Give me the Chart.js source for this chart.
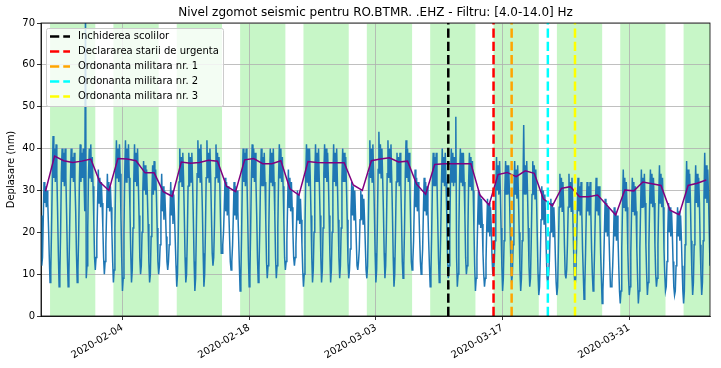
<!DOCTYPE html>
<html>
<head>
<meta charset="utf-8">
<script src="https://cdn.jsdelivr.net/npm/chart.js@4.4.0/dist/chart.umd.min.js"></script>
<style>
  body { margin: 0; background: #fff; }
  #wrap { width: 721px; height: 368px; }
</style>
</head>
<body>
<div id="wrap"><canvas id="grafic" width="721" height="368"></canvas></div>
<script>
// Ziua 0 a seriei
const dataStart = "2020-01-26";

// Deplasare (nm): un rand pe zi, esantioane la 00,02,...,22 h
const deplasare = [
  [24, 12, 14, 23, 32, 27, 31, 26, 30, 27, 21, 14], // 01-26 dum
  [8, 11, 21, 33, 43, 33, 40, 32, 41, 34, 25, 15],
  [7, 10, 20, 34, 40, 32, 39, 31, 40, 33, 24, 14],
  [7, 10, 21, 32, 40, 33, 38, 32, 39, 32, 25, 15],
  [8, 11, 20, 33, 41, 32, 39, 33, 40, 33, 25, 75],
  [9, 12, 21, 34, 40, 33, 41, 32, 38, 31, 23, 14],
  [11, 14, 18, 27, 35, 27, 33, 26, 32, 27, 21, 14],
  [10, 13, 17, 25, 34, 26, 32, 25, 31, 26, 20, 13], // 02-02 dum
  [8, 11, 21, 33, 42, 33, 40, 32, 41, 34, 24, 14],
  [6, 9, 20, 34, 42, 32, 40, 33, 41, 33, 25, 15],
  [8, 11, 21, 32, 41, 32, 39, 31, 40, 32, 24, 14],
  [10, 12, 20, 30, 37, 30, 36, 29, 35, 29, 22, 13],
  [8, 10, 19, 29, 36, 29, 37, 30, 35, 29, 21, 13],
  [10, 12, 17, 26, 34, 25, 31, 23, 30, 25, 19, 13],
  [11, 13, 17, 24, 32, 24, 30, 22, 29, 24, 18, 12], // 02-09 dum
  [7, 10, 20, 32, 40, 32, 38, 31, 39, 33, 24, 14],
  [8, 10, 19, 31, 39, 31, 38, 32, 39, 32, 23, 13],
  [6, 9, 21, 34, 42, 33, 40, 32, 41, 33, 25, 15],
  [7, 10, 20, 33, 42, 33, 39, 32, 40, 33, 24, 15],
  [12, 14, 22, 33, 41, 33, 39, 32, 38, 32, 23, 15],
  [15, 17, 20, 26, 33, 25, 32, 24, 31, 25, 19, 13],
  [11, 13, 17, 24, 32, 24, 31, 23, 30, 25, 19, 12], // 02-16 dum
  [6, 9, 20, 33, 40, 32, 39, 31, 40, 33, 24, 14],
  [7, 10, 21, 34, 41, 33, 40, 32, 39, 32, 24, 14],
  [8, 11, 20, 32, 40, 31, 38, 31, 39, 32, 23, 13],
  [9, 12, 20, 32, 40, 32, 39, 31, 40, 32, 24, 14],
  [9, 12, 21, 33, 41, 33, 40, 32, 38, 31, 23, 14],
  [11, 13, 18, 27, 35, 26, 33, 25, 32, 26, 20, 14],
  [12, 14, 17, 23, 30, 23, 29, 22, 28, 23, 17, 11], // 02-23 dum
  [7, 10, 21, 33, 41, 32, 40, 31, 40, 33, 24, 14],
  [8, 11, 20, 33, 41, 32, 39, 32, 40, 32, 24, 14],
  [8, 11, 21, 34, 41, 33, 40, 32, 39, 33, 24, 15],
  [8, 11, 20, 32, 41, 32, 39, 31, 40, 32, 23, 14],
  [9, 12, 21, 33, 40, 32, 39, 32, 38, 31, 23, 13],
  [9, 11, 16, 25, 32, 24, 31, 23, 30, 24, 18, 12],
  [11, 13, 16, 23, 30, 23, 29, 22, 28, 23, 17, 11], // 03-01 dum
  [9, 12, 22, 34, 42, 33, 40, 32, 41, 34, 25, 15],
  [8, 11, 22, 35, 44, 34, 41, 33, 40, 33, 25, 15],
  [9, 12, 21, 34, 42, 33, 40, 32, 41, 33, 24, 14],
  [7, 10, 20, 32, 39, 32, 38, 31, 39, 32, 23, 13],
  [9, 12, 21, 34, 42, 33, 40, 32, 39, 32, 23, 13],
  [11, 13, 18, 27, 35, 26, 33, 25, 32, 26, 19, 13],
  [10, 12, 16, 25, 33, 25, 32, 24, 31, 25, 18, 12], // 03-08 dum
  [7, 10, 20, 32, 39, 31, 38, 31, 39, 32, 23, 14],
  [8, 11, 20, 32, 40, 32, 38, 31, 39, 32, 24, 14],
  [9, 12, 20, 33, 40, 32, 39, 31, 38, 32, 47.6, 14],
  [7, 10, 20, 33, 40, 32, 39, 31, 39, 32, 24, 14],
  [10, 12, 20, 32, 39, 31, 38, 30, 37, 30, 21, 12],
  [6, 9, 14, 23, 30, 22, 29, 21, 28, 22, 15, 10],
  [7, 9, 13, 21, 28, 20, 27, 19, 26, 21, 14, 10], // 03-15 dum
  [11, 13, 18, 30, 38, 30, 36, 29, 37, 30, 21, 12],
  [6, 9, 18, 30, 37, 29, 36, 29, 36, 30, 21, 12],
  [8, 10, 17, 29, 37, 29, 35, 28, 36, 29, 20, 11],
  [6, 9, 18, 30, 45.6, 29, 36, 29, 37, 30, 21, 12],
  [7, 9, 18, 29, 37, 29, 36, 28, 35, 28, 19, 10],
  [5, 7, 14, 23, 31, 23, 30, 22, 29, 23, 15, 9],
  [8, 10, 13, 20, 28, 20, 27, 19, 26, 21, 14, 8], // 03-22 dum
  [5, 7, 16, 26, 34, 26, 33, 25, 32, 26, 17, 10],
  [9, 11, 17, 26, 34, 26, 32, 25, 33, 26, 17, 10],
  [7, 9, 16, 25, 33, 25, 31, 24, 32, 25, 16, 10],
  [4, 7, 15, 25, 32, 25, 31, 24, 32, 25, 16, 10],
  [6, 8, 16, 25, 33, 25, 31, 24, 31, 24, 15, 9],
  [3, 6, 12, 20, 28, 20, 27, 19, 26, 20, 13, 7],
  [7, 8, 12, 18, 26, 19, 25, 18, 24, 19, 12, 6], // 03-29 dum
  [3, 6, 16, 26, 35, 26, 33, 25, 32, 26, 16, 9],
  [5, 7, 15, 25, 33, 25, 32, 24, 31, 25, 16, 9],
  [3, 6, 16, 26, 35, 26, 33, 26, 34, 27, 17, 10],
  [5, 8, 17, 27, 35, 27, 34, 26, 33, 27, 17, 10],
  [7, 9, 17, 27, 36, 27, 34, 26, 33, 26, 16, 10],
  [6, 7, 13, 20, 27, 20, 26, 19, 25, 20, 13, 7],
  [5, 6, 12, 19, 26, 19, 25, 18, 24, 19, 12, 6], // 04-05 dum
  [3, 6, 17, 27, 37, 27, 35, 27, 34, 28, 18, 10],
  [5, 8, 17, 27, 36, 27, 34, 26, 33, 27, 17, 10],
  [5, 8, 18, 28, 39, 28, 36, 27, 35, 29, 20, 12]
];

// Media zilnica (linia mov), cate o valoare pe zi
const medieZilnica = [
  29.8, 38.2, 37.1, 36.7, 37.0, 37.5, 32.0,
  30.0, 37.6, 37.5, 37.1, 34.2, 34.2, 29.7,
  28.6, 36.8, 36.5, 36.7, 37.2, 37.0, 31.0,
  29.7, 37.3, 37.6, 36.4, 36.4, 37.1, 30.4,
  28.9, 36.9, 36.7, 36.6, 36.6, 36.6, 31.3,
  30.0, 37.1, 37.5, 37.8, 36.8, 37.0, 31.5,
  29.1, 36.2, 36.4, 36.4, 36.4, 36.4, 28.9,
  26.5, 33.8, 34.3, 33.3, 34.7, 34.1, 28.0,
  26.3, 30.5, 30.9, 28.5, 28.5, 28.9, 26.5,
  24.1, 30.1, 29.9, 32.0, 31.6, 31.2, 25.3,
  24.2, 31.2, 31.7, 32.5
];

// Evenimente (linii verticale)
const evenimente = [
  "Inchiderea scolilor",
  "Declararea starii de urgenta",
  "Ordonanta militara nr. 1",
  "Ordonanta militara nr. 2",
  "Ordonanta militara nr. 3"
];
const dateEvenimente = ["2020-03-11", "2020-03-16", "2020-03-18", "2020-03-22", "2020-03-25"];
const culoriEvenimente = ["#000000", "#ff0000", "#ffa500", "#00ffff", "#ffff00"];

// Zilele lucratoare (luni - vineri), umbrite cu verde
const inceputSaptamani = [
  "2020-01-27", "2020-02-03", "2020-02-10", "2020-02-17", "2020-02-24", "2020-03-02",
  "2020-03-09", "2020-03-16", "2020-03-23", "2020-03-30", "2020-04-06"
];

// Etichete axe
const xTickDates = ["2020-02-04", "2020-02-18", "2020-03-03", "2020-03-17", "2020-03-31"];
const yTickValues = [0, 10, 20, 30, 40, 50, 60, 70];

const titlu = "Nivel zgomot seismic pentru RO.BTMR. .EHZ - Filtru: [4.0-14.0] Hz";
const FONT = "'DejaVu Sans', 'Liberation Sans', sans-serif";

// zile de la inceputul seriei
function ziua(s) {
  return (Date.parse(s + "T00:00:00Z") - Date.parse(dataStart + "T00:00:00Z")) / 864e5;
}
function dataDinZi(v) {
  return new Date(Date.parse(dataStart + "T00:00:00Z") + Math.round(v * 864e5)).toISOString().slice(0, 10);
}

var puncte = [];
deplasare.forEach((zi, d) => {
  zi.forEach((v, i) => puncte.push({ x: d + i / 12, y: v }));
});
var xMax = puncte[puncte.length - 1].x;

var datasets = [];
evenimente.forEach((nume, i) => {
  let x = ziua(dateEvenimente[i]);
  datasets.push({
    label: nume,
    data: [{ x: x, y: 0 }, { x: x, y: 70 }],
    borderColor: culoriEvenimente[i],
    borderWidth: 2.5,
    borderDash: [9.25, 4],
    pointRadius: 0,
    order: 0
  });
});
datasets.push({
  label: "medie",
  data: medieZilnica.map((v, d) => ({ x: d + 0.5, y: v })),
  borderColor: "#800080",
  borderWidth: 1.5,
  pointRadius: 0,
  order: 1
});
datasets.push({
  label: "zgomot",
  data: puncte,
  borderColor: "#1f77b4",
  borderWidth: 1.5,
  pointRadius: 0,
  order: 2
});

// benzi verzi, rama, legenda si titlu
const decor = {
  id: "decor",
  beforeDraw(chart) {
    const { ctx, chartArea: a, scales } = chart;
    ctx.save();
    ctx.beginPath();
    ctx.rect(a.left, a.top, a.right - a.left, a.bottom - a.top);
    ctx.clip();
    ctx.fillStyle = "rgba(144, 238, 144, 0.5)";
    inceputSaptamani.forEach((s) => {
      let x0 = scales.x.getPixelForValue(ziua(s));
      let x1 = scales.x.getPixelForValue(ziua(s) + 5);
      ctx.fillRect(x0, a.top, x1 - x0, a.bottom - a.top);
    });
    ctx.restore();
  },
  afterDraw(chart) {
    const { ctx, chartArea: a } = chart;
    ctx.save();
    // rama
    ctx.strokeStyle = "#000";
    ctx.lineWidth = 0.8;
    ctx.strokeRect(a.left, a.top, a.right - a.left, a.bottom - a.top);

    // legenda
    let lx = a.left + 5, ly = a.top + 5, lw = 177, lh = 78;
    ctx.beginPath();
    ctx.roundRect(lx + 0.5, ly + 0.5, lw, lh, 2);
    ctx.fillStyle = "rgba(255,255,255,0.8)";
    ctx.fill();
    ctx.strokeStyle = "#cccccc";
    ctx.lineWidth = 1;
    ctx.stroke();
    ctx.font = "10px " + FONT;
    ctx.textBaseline = "middle";
    evenimente.forEach((nume, i) => {
      let y = ly + 8.5 + i * 15;
      ctx.beginPath();
      ctx.setLineDash([9.25, 4]);
      ctx.strokeStyle = culoriEvenimente[i];
      ctx.lineWidth = 2.5;
      ctx.moveTo(lx + 4, y);
      ctx.lineTo(lx + 24, y);
      ctx.stroke();
      ctx.setLineDash([]);
      ctx.fillStyle = "#000";
      ctx.fillText(nume, lx + 32, y);
    });

    // titlu
    ctx.font = "12px " + FONT;
    ctx.textAlign = "center";
    ctx.fillStyle = "#000";
    ctx.fillText(titlu, (a.left + a.right) / 2, 13);
    ctx.restore();
  }
};

var ctx = document.getElementById("grafic").getContext("2d");
var chart = new Chart(ctx, {
  type: "line",
  data: { datasets: datasets },
  options: {
    responsive: false,
    animation: false,
    devicePixelRatio: 1,
    events: [],
    layout: { padding: { top: 23, right: 11, left: 0, bottom: 0 } },
    plugins: {
      legend: { display: false },
      title: { display: false },
      tooltip: { enabled: false }
    },
    scales: {
      x: {
        type: "linear",
        min: 0,
        max: xMax,
        afterBuildTicks: (s) => {
          s.ticks = xTickDates.map((d) => ({ value: ziua(d) }));
        },
        afterFit: (s) => {
          s.height = 52;
        },
        ticks: {
          minRotation: 30,
          maxRotation: 30,
          padding: 2,
          color: "#000",
          font: { size: 10, family: FONT },
          callback: (v) => dataDinZi(v)
        },
        grid: { color: "#b0b0b0", lineWidth: 0.8, tickLength: 4, tickColor: "#000", tickWidth: 0.8 },
        border: { color: "#000", width: 0.8 }
      },
      y: {
        min: 0,
        max: 70,
        afterBuildTicks: (s) => {
          s.ticks = yTickValues.map((v) => ({ value: v }));
        },
        afterFit: (s) => {
          s.width = 41;
        },
        ticks: {
          padding: 2,
          color: "#000",
          font: { size: 10, family: FONT }
        },
        grid: { color: "#b0b0b0", lineWidth: 0.8, tickLength: 4, tickColor: "#000", tickWidth: 0.8 },
        border: { color: "#000", width: 0.8 },
        title: {
          display: true,
          text: "Deplasare (nm)",
          color: "#000",
          font: { size: 10, family: FONT },
          padding: { top: 5, bottom: 0 }
        }
      }
    }
  },
  plugins: [decor]
});
</script>
</body>
</html>
